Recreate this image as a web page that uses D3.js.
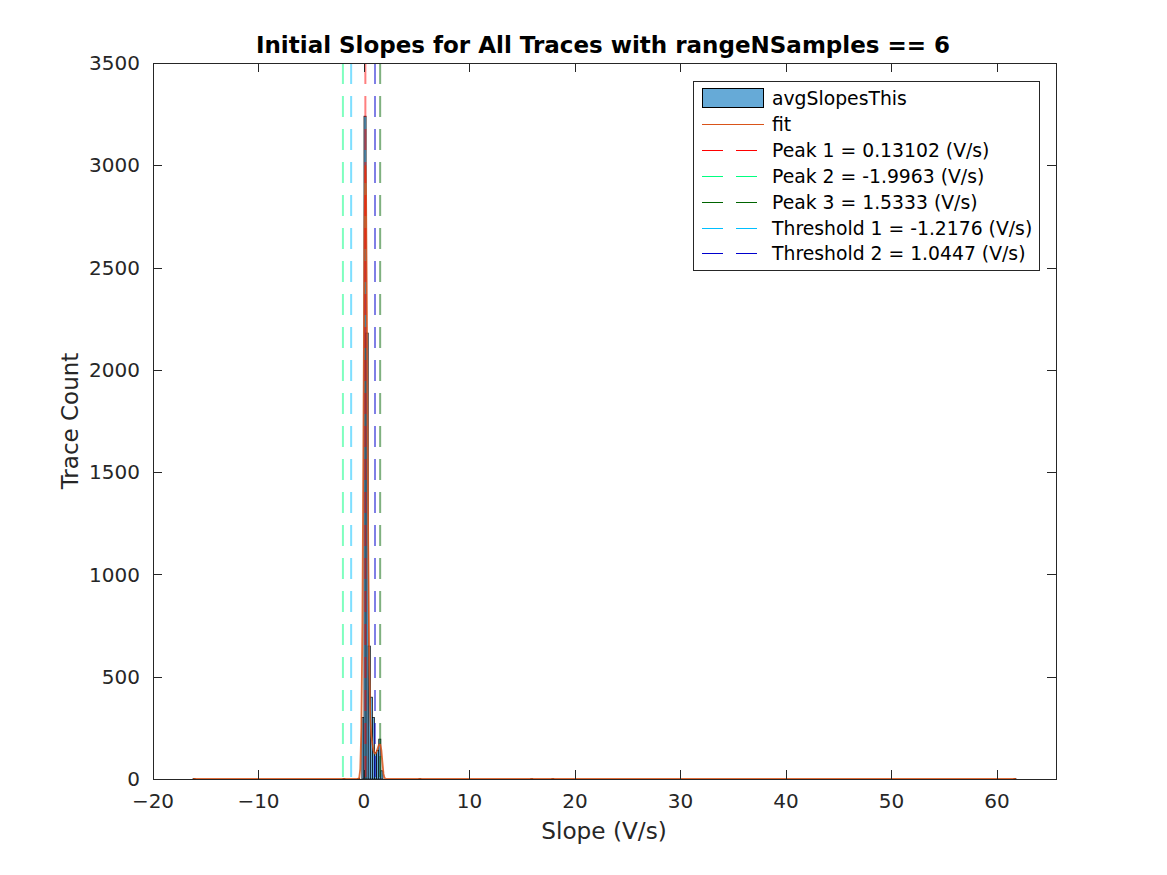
<!DOCTYPE html>
<html>
<head>
<meta charset="utf-8">
<script src="https://cdn.jsdelivr.net/npm/d3@7"></script>
<style>
  html, body { margin: 0; padding: 0; background: #ffffff; }
  svg { display: block; }
  text { font-family: "DejaVu Sans", sans-serif; }
</style>
</head>
<body>
<svg id="chart" width="1167" height="875"></svg>
<script>
// ---------------- data ----------------
const binWidth = 0.2;
const binLeft  = [-16.2, -2.0, -0.6, -0.2, 0.0, 0.2, 0.4, 0.6, 0.8, 1.0, 1.2, 1.4, 1.6, 5.2, 15.8, 17.8, 61.6];
const binCount = [3, 2, 3, 300, 3240, 2180, 650, 400, 300, 130, 140, 195, 40, 2, 2, 2, 2];

const fitX = [-16.2, -0.6, -0.45, -0.35, -0.25, -0.15, -0.05, 0.05, 0.13, 0.2, 0.3, 0.4, 0.5, 0.6, 0.7, 0.8, 0.9, 1.0, 1.1, 1.2, 1.3, 1.4, 1.5, 1.55, 1.65, 1.75, 1.85, 1.95, 2.1, 61.8];
const fitY = [0, 0, 5, 50, 250, 750, 1700, 2700, 3000, 2850, 2100, 1150, 560, 300, 210, 170, 140, 125, 125, 135, 150, 165, 170, 168, 140, 80, 25, 5, 0, 0];

const vlineNames  = ["Peak 1 = 0.13102 (V/s)", "Peak 2 = -1.9963 (V/s)", "Peak 3 = 1.5333 (V/s)", "Threshold 1 = -1.2176 (V/s)", "Threshold 2 = 1.0447 (V/s)"];
const vlineValues = [0.13102, -1.9963, 1.5333, -1.2176, 1.0447];
const vlineColors = ["#ff0000", "#00ff80", "#006400", "#00bfff", "#0000cd"];

const histName = "avgSlopesThis";
const fitName = "fit";

const xTicks = [-20, -10, 0, 10, 20, 30, 40, 50, 60];
const yTicks = [0, 500, 1000, 1500, 2000, 2500, 3000, 3500];
const xDomain = [-20, 65.6];
const yDomain = [0, 3500];

const titleText = "Initial Slopes for All Traces with rangeNSamples == 6";
const xLabelText = "Slope (V/s)";
const yLabelText = "Trace Count";

// ---------------- layout ----------------
const L = 153, R = 1056, T = 63, B = 779;
const axisColor = "#262626";
const histFill = "#66aad7";
const fitColor = "#d95319";

const svg = d3.select("#chart");
const x = d3.scaleLinear().domain(xDomain).range([L, R]);
const y = d3.scaleLinear().domain(yDomain).range([B, T]);

svg.append("defs").append("clipPath").attr("id", "clip")
  .append("rect").attr("x", L).attr("y", T).attr("width", R - L).attr("height", B - T);

const plot = svg.append("g").attr("clip-path", "url(#clip)");

// histogram bars
plot.selectAll("rect.bar")
  .data(binLeft.map((b, i) => ({ x0: b, x1: b + binWidth, c: binCount[i] })))
  .enter().append("rect")
  .attr("class", "bar")
  .attr("x", d => x(d.x0))
  .attr("width", d => x(d.x1) - x(d.x0))
  .attr("y", d => y(d.c))
  .attr("height", d => y(0) - y(d.c))
  .attr("fill", histFill)
  .attr("stroke", "#000")
  .attr("stroke-width", 0.7);

// fit line
const line = d3.line().x(d => x(d[0])).y(d => y(d[1]));
plot.append("path")
  .datum(fitX.map((v, i) => [v, fitY[i]]))
  .attr("d", line)
  .attr("fill", "none")
  .attr("stroke", fitColor)
  .attr("stroke-opacity", 0.85)
  .attr("stroke-width", 1.8);

// vertical dashed lines
vlineValues.forEach((v, i) => {
  plot.append("line")
    .attr("x1", x(v)).attr("x2", x(v))
    .attr("y1", T).attr("y2", B)
    .attr("stroke", vlineColors[i])
    .attr("stroke-opacity", 0.5)
    .attr("stroke-width", 2)
    .attr("stroke-dasharray", "21,12");
});

// axes box
const axG = svg.append("g");
axG.append("rect").attr("x", L + 0.5).attr("y", T + 0.5).attr("width", R - L).attr("height", B - T)
  .attr("fill", "none").attr("stroke", axisColor).attr("stroke-width", 1);

const tickLen = 9;
xTicks.forEach(t => {
  const px = Math.round(x(t)) + 0.5;
  axG.append("line").attr("x1", px).attr("x2", px).attr("y1", B).attr("y2", B - tickLen)
    .attr("stroke", axisColor);
  axG.append("line").attr("x1", px).attr("x2", px).attr("y1", T).attr("y2", T + tickLen)
    .attr("stroke", axisColor);
});
yTicks.forEach(t => {
  const py = Math.round(y(t)) + 0.5;
  axG.append("line").attr("x1", L).attr("x2", L + tickLen).attr("y1", py).attr("y2", py)
    .attr("stroke", axisColor);
  axG.append("line").attr("x1", R).attr("x2", R - tickLen).attr("y1", py).attr("y2", py)
    .attr("stroke", axisColor);
});

const fmt = d3.format("d");
axG.selectAll("text.xt").data(xTicks).enter().append("text")
  .attr("x", d => x(d)).attr("y", 808)
  .attr("text-anchor", "middle")
  .attr("font-size", 20)
  .attr("fill", axisColor)
  .text(d => fmt(d));
axG.selectAll("text.yt").data(yTicks).enter().append("text")
  .attr("x", 140).attr("y", d => y(d))
  .attr("dy", "0.36em")
  .attr("text-anchor", "end")
  .attr("font-size", 20)
  .attr("fill", axisColor)
  .text(d => fmt(d));

// title and labels
svg.append("text").attr("x", 603).attr("y", 53)
  .attr("text-anchor", "middle").attr("font-size", 23).attr("font-weight", "bold")
  .attr("fill", "#000").text(titleText);
svg.append("text").attr("x", 604).attr("y", 839)
  .attr("text-anchor", "middle").attr("font-size", 23.2)
  .attr("fill", axisColor).text(xLabelText);
svg.append("text")
  .attr("transform", `translate(78,${(T + B) / 2}) rotate(-90)`)
  .attr("text-anchor", "middle").attr("font-size", 23)
  .attr("fill", axisColor).text(yLabelText);

// legend
const lg = svg.append("g");
const lgX = 693.5, lgY = 81.5, lgW = 346, lgH = 189;
lg.append("rect").attr("x", lgX).attr("y", lgY).attr("width", lgW).attr("height", lgH)
  .attr("fill", "#fff").attr("stroke", axisColor).attr("stroke-width", 1);
const rowY = i => Math.round(98 + i * 25.9) + 0.5;
const textX = 772;
const lfs = 18.8;
// hist entry
lg.append("rect").attr("x", 702.5).attr("y", 88.5).attr("width", 61).attr("height", 19)
  .attr("fill", histFill).attr("stroke", "#000").attr("stroke-width", 1);
lg.append("text").attr("x", textX).attr("y", rowY(0)).attr("dy", "0.36em")
  .attr("font-size", lfs).attr("fill", "#000").text(histName);
// fit entry
lg.append("line").attr("x1", 702).attr("x2", 764).attr("y1", rowY(1)).attr("y2", rowY(1))
  .attr("stroke", fitColor).attr("stroke-width", 1);
lg.append("text").attr("x", textX).attr("y", rowY(1)).attr("dy", "0.36em")
  .attr("font-size", lfs).attr("fill", "#000").text(fitName);
// vline entries
vlineNames.forEach((n, i) => {
  const yy = rowY(i + 2);
  lg.append("line").attr("x1", 702).attr("x2", 757).attr("y1", yy).attr("y2", yy)
    .attr("stroke", vlineColors[i]).attr("stroke-width", 1)
    .attr("stroke-dasharray", "21,13");
  lg.append("text").attr("x", textX).attr("y", yy).attr("dy", "0.36em")
    .attr("font-size", lfs).attr("fill", "#000").text(n);
});
</script>
</body>
</html>
